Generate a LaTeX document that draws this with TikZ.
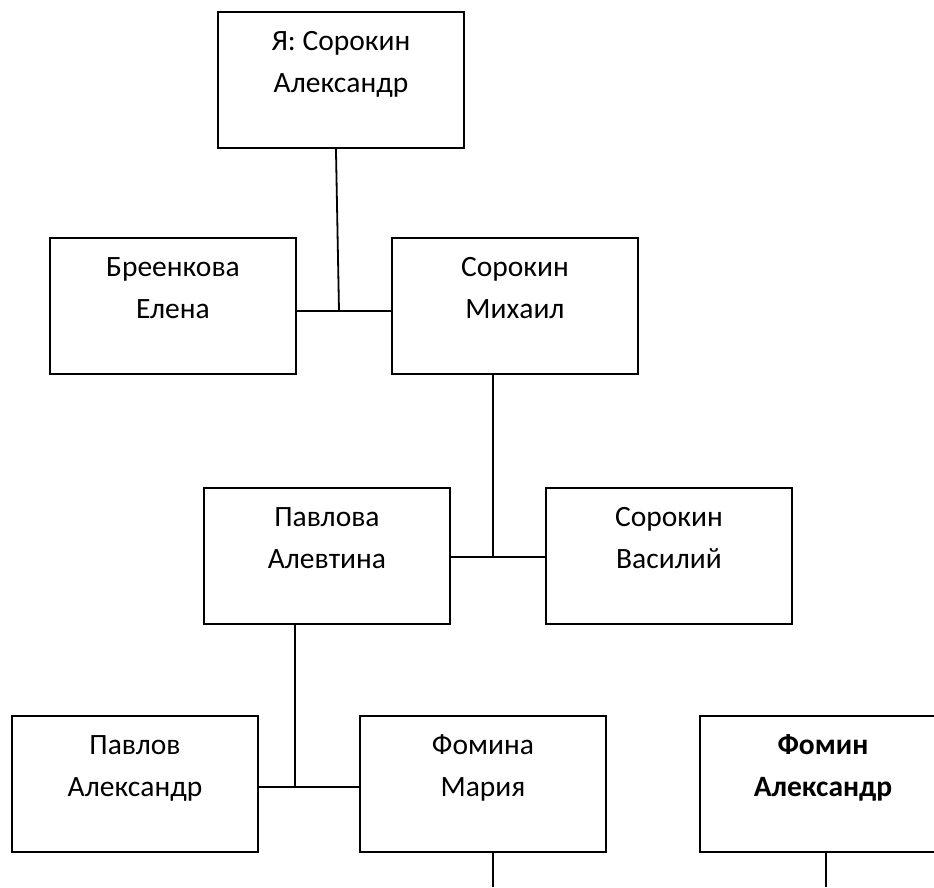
\documentclass[tikz,border=0pt]{standalone}
\usepackage{fontspec}
\setmainfont{Carlito}
\newcommand\famtext[2]{\parbox[t][136pt][t]{246pt}{\fontsize{29.5}{41.5}\selectfont\centering\rule{0pt}{39pt}#1\\#2}}
\begin{document}
\begin{tikzpicture}[x=1pt,y=-1pt,
  box/.style={draw, line width=1.9pt, inner sep=0pt, anchor=north west},
  ln/.style={line width=1.8pt}]
\useasboundingbox (0,0) rectangle (934,887);
\clip (0,0) rectangle (934,887);
\node[box] (b1) at (217,11) {\famtext{Я: Сорокин}{Александр}};
\node[box] (b2) at (49,237) {\famtext{Бреенкова}{Елена}};
\node[box] (b3) at (391,237) {\famtext{Сорокин}{Михаил}};
\node[box] (b4) at (203,487) {\famtext{Павлова}{Алевтина}};
\node[box] (b5) at (545,487) {\famtext{Сорокин}{Василий}};
\node[box] (b6) at (11,715) {\famtext{Павлов}{Александр}};
\node[box] (b7) at (359,715) {\famtext{Фомина}{Мария}};
\node[box] (b8) at (699,715) {\famtext{\textbf{Фомин}}{\textbf{Александр}}};
\coordinate (j1) at (339,311);
\coordinate (j2) at (493,557);
\coordinate (j3) at (295,787);
\coordinate (e7) at (493,887);
\coordinate (e8) at (826,887);
\draw[ln] (b2.east |- j1) -- (b3.west |- j1);
\draw[ln] ([xshift=-5pt]b1.south) -- (j1);
\draw[ln] (b4.east |- j2) -- (b5.west |- j2);
\draw[ln] (b3.south -| j2) -- (j2);
\draw[ln] (b6.east |- j3) -- (b7.west |- j3);
\draw[ln] (b4.south -| j3) -- (j3);
\draw[ln] (b7.south -| e7) -- (e7);
\draw[ln] (b8.south -| e8) -- (e8);
\end{tikzpicture}
\end{document}
